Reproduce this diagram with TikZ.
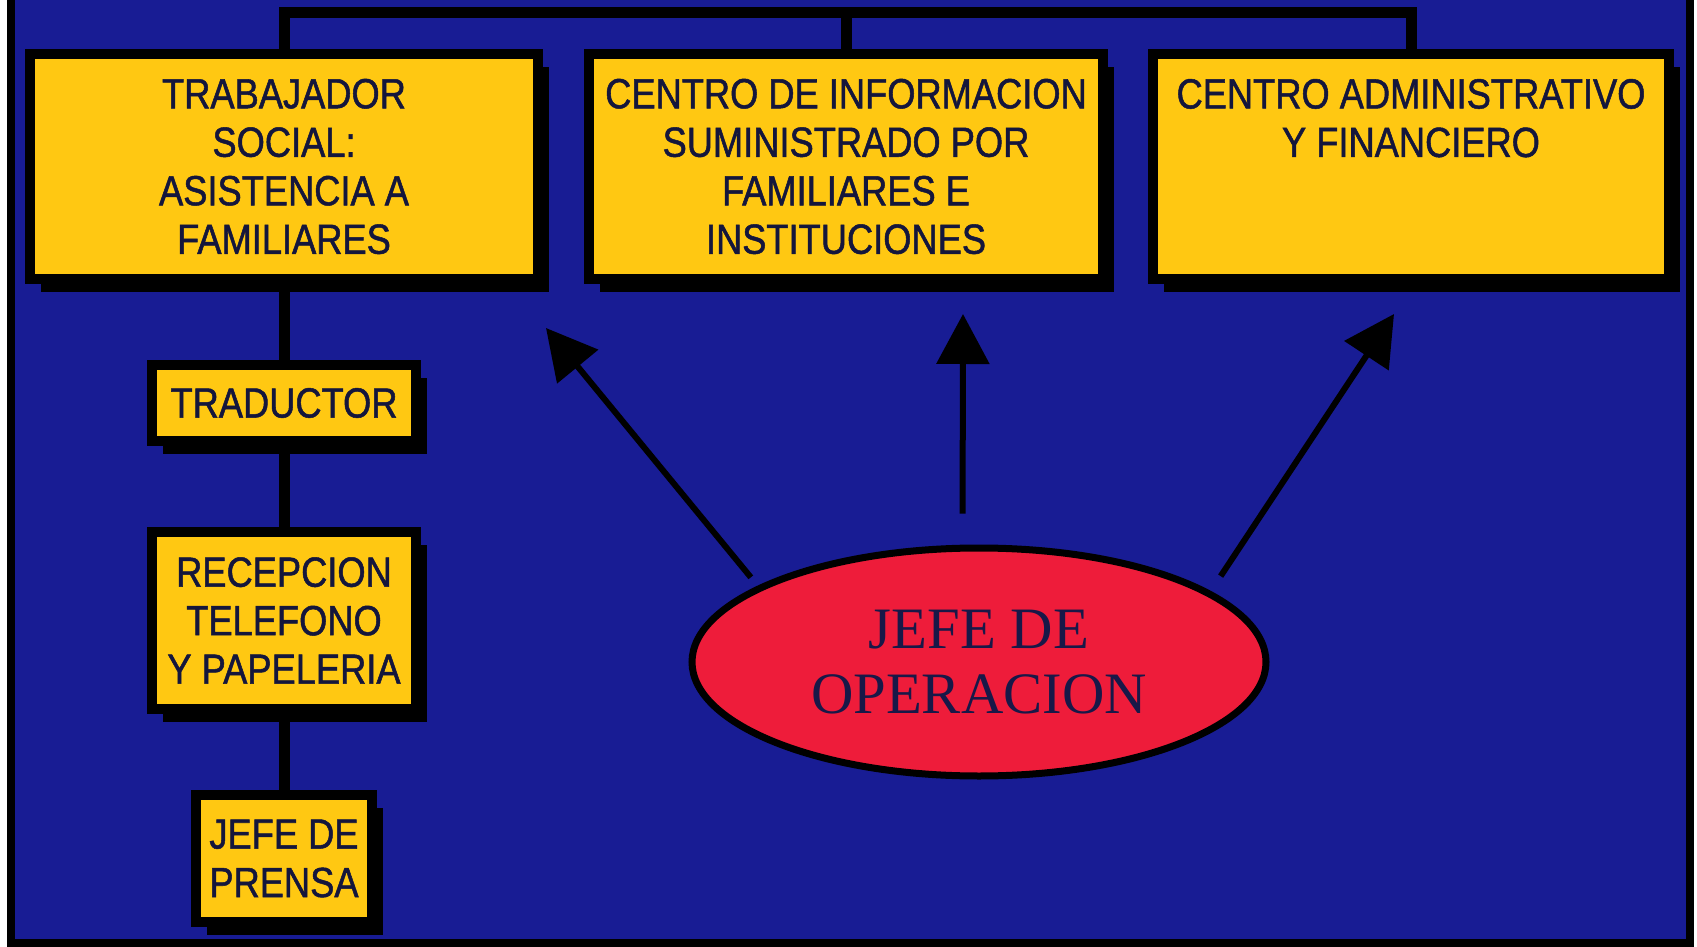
\documentclass[tikz,border=0pt]{standalone}
\usepackage{fontspec}
\usepackage{tikz}
\usetikzlibrary{shapes.geometric,shadows,arrows.meta}
\newfontfamily\cajafont[FakeStretch=0.86,FakeBold=1.2]{Liberation Sans}
\newfontfamily\elipsefont{Liberation Serif}
\newcommand{\letracaja}{\cajafont\fontsize{12pt}{13.8pt}\selectfont}
\newcommand{\letraelipse}{\elipsefont\fontsize{16.7pt}{18.5pt}\selectfont}
\definecolor{fondo}{RGB}{24,28,148}
\definecolor{amarillo}{RGB}{255,200,18}
\definecolor{rojo}{RGB}{238,28,58}
\definecolor{tinta}{RGB}{20,22,60}
\definecolor{tintaazul}{RGB}{24,24,72}
\tikzset{
  caja/.style={draw=black, line width=0.1cm, fill=amarillo, text=tinta,
    align=center, font=\letracaja, inner sep=0pt,
    drop shadow={shadow xshift=0.11cm, shadow yshift=-0.13cm, fill=black, opacity=1}},
  elipse/.style={ellipse, draw=black, line width=0.07cm, fill=rojo, text=tintaazul,
    align=center, font=\letraelipse, inner sep=0pt,
    minimum width=5.74cm, minimum height=2.28cm},
  linea/.style={draw=black, line width=0.11cm},
  flecha/.style={draw=black, line width=0.06cm, -{Triangle[length=0.5cm,width=0.52cm]}}
}
\begin{document}
\begin{tikzpicture}
  % Background and scanned border
  \useasboundingbox (0,0) rectangle (16.97,-9.47);
  \fill[white] (0,0) rectangle (16.97,-9.47);
  \fill[fondo] (0.07,0) rectangle (16.94,-9.47);
  \fill[black] (0.07,0) rectangle (0.15,-9.47);
  \fill[black] (16.86,0) rectangle (16.94,-9.47);
  \fill[black] (0.07,-9.39) rectangle (16.94,-9.47);

  % Top row
  \node[caja, minimum width=5.07cm, minimum height=2.25cm] (ts) at (2.84,-1.665)
    {TRABAJADOR\\SOCIAL:\\ASISTENCIA A\\FAMILIARES};
  \node[caja, minimum width=5.14cm, minimum height=2.25cm] (ci) at (8.46,-1.665)
    {CENTRO DE INFORMACION\\SUMINISTRADO POR\\FAMILIARES E\\INSTITUCIONES};
  \node[caja, minimum width=5.16cm, minimum height=2.25cm] (caf) at (14.11,-1.665)
    {CENTRO ADMINISTRATIVO\\Y FINANCIERO\\\phantom{Y}\\\phantom{Y}};

  % Left column
  \node[caja, minimum width=2.64cm, minimum height=0.76cm] (trad) at (2.84,-4.03) {TRADUCTOR};
  \node[caja, minimum width=2.64cm, minimum height=1.77cm] (recep) at (2.84,-6.205)
    {RECEPCION\\TELEFONO\\Y PAPELERIA};
  \node[caja, minimum width=1.76cm, minimum height=1.27cm] (prensa) at (2.84,-8.585)
    {JEFE DE\\PRENSA};

  % Ellipse
  \node[elipse] (jefe) at (9.79,-6.62) {JEFE DE\\OPERACION};

  % Connectors
  \coordinate (cima) at (0,-0.125);
  \draw[linea] (ts.north) -- (ts.north |- cima) -- (caf.north |- cima) -- (caf.north);
  \draw[linea] (ci.north) -- (ci.north |- cima);
  \draw[linea] (ts.south) -- (trad.north);
  \draw[linea] (trad.south) -- (recep.north);
  \draw[linea] (recep.south) -- (prensa.north);

  % Arrows
  \coordinate (puntaA) at (5.46,-3.28);
  \coordinate (puntaB) at (9.63,-3.14);
  \coordinate (puntaC) at (13.94,-3.14);
  \draw[flecha, shorten <=0.11cm] (jefe.161) -- (puntaA);
  \draw[flecha, shorten <=0.31cm] (jefe.98) -- (puntaB);
  \draw[flecha, shorten <=0.18cm] (jefe.17) -- (puntaC);
\end{tikzpicture}
\end{document}
